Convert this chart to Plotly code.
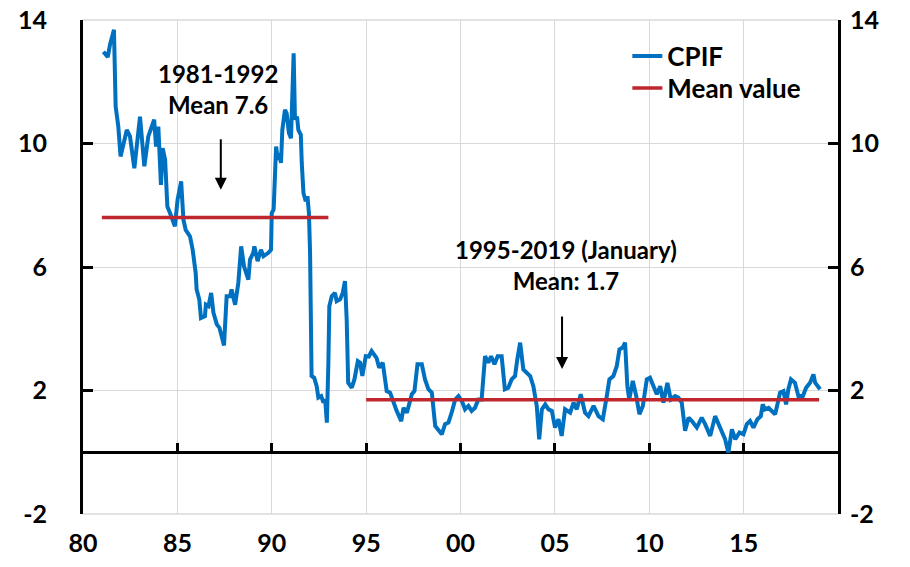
import plotly.graph_objects as go

# ---- Data ----
cpif_year = [
    1981.08, 1981.31, 1981.43, 1981.64, 1981.73, 1981.87, 1981.99, 1982.32, 1982.49, 1982.72,
    1983.02, 1983.25, 1983.46, 1983.77, 1983.87, 1983.99, 1984.13, 1984.22, 1984.35, 1984.47,
    1984.61, 1984.87, 1985.01, 1985.20, 1985.32, 1985.44, 1985.67, 1985.81, 1985.97, 1986.02,
    1986.16, 1986.25, 1986.46, 1986.51, 1986.65, 1986.79, 1986.91, 1987.09, 1987.23, 1987.31,
    1987.47, 1987.61, 1987.79, 1987.87, 1988.06, 1988.23, 1988.38, 1988.53, 1988.76, 1988.85,
    1989.02, 1989.08, 1989.25, 1989.43, 1989.56, 1989.82, 1989.96, 1990.00, 1990.10, 1990.23,
    1990.32, 1990.40, 1990.49, 1990.56, 1990.70, 1990.79, 1990.91, 1991.02, 1991.16, 1991.23,
    1991.34, 1991.41, 1991.54, 1991.59, 1991.68, 1991.80, 1991.89, 1991.97, 1992.03, 1992.11,
    1992.25, 1992.38, 1992.47, 1992.62, 1992.74, 1992.83, 1992.92, 1993.00, 1993.05, 1993.18,
    1993.35, 1993.44, 1993.62, 1993.76, 1993.88, 1993.97, 1994.05, 1994.24, 1994.38, 1994.56,
    1994.68, 1994.80, 1994.98, 1995.14, 1995.29, 1995.55, 1995.69, 1995.88, 1996.09, 1996.27,
    1996.44, 1996.62, 1996.86, 1996.98, 1997.16, 1997.42, 1997.56, 1997.72, 1997.95, 1998.12,
    1998.30, 1998.48, 1998.66, 1998.83, 1999.01, 1999.18, 1999.36, 1999.53, 1999.72, 1999.89,
    2000.07, 2000.24, 2000.42, 2000.59, 2000.77, 2000.94, 2001.12, 2001.30, 2001.47, 2001.62,
    2001.80, 2001.97, 2002.18, 2002.35, 2002.53, 2002.71, 2002.89, 2003.01, 2003.16, 2003.33,
    2003.51, 2003.69, 2003.86, 2004.04, 2004.17, 2004.31, 2004.49, 2004.66, 2004.84, 2005.01,
    2005.19, 2005.36, 2005.54, 2005.81, 2005.99, 2006.16, 2006.37, 2006.60, 2006.78, 2007.05,
    2007.31, 2007.54, 2007.75, 2007.89, 2008.10, 2008.28, 2008.42, 2008.59, 2008.72, 2008.84,
    2008.94, 2009.13, 2009.31, 2009.48, 2009.66, 2009.87, 2010.04, 2010.23, 2010.40, 2010.58,
    2010.75, 2010.96, 2011.14, 2011.37, 2011.54, 2011.72, 2011.90, 2012.08, 2012.26, 2012.52,
    2012.78, 2012.96, 2013.23, 2013.49, 2013.67, 2013.84, 2014.02, 2014.19, 2014.38, 2014.56,
    2014.78, 2014.99, 2015.17, 2015.34, 2015.52, 2015.73, 2015.91, 2016.01, 2016.13, 2016.32,
    2016.50, 2016.67, 2016.79, 2016.93, 2017.11, 2017.25, 2017.37, 2017.51, 2017.72, 2017.90,
    2018.14, 2018.31, 2018.52, 2018.70, 2018.79, 2018.91, 2019.05,
]
cpif_value = [
    12.97, 12.80, 13.20, 13.68, 11.20, 10.55, 9.58, 10.44, 10.23, 9.20,
    10.87, 9.26, 10.23, 10.77, 9.90, 10.55, 8.66, 9.85, 9.47, 7.96,
    7.75, 7.32, 8.18, 8.77, 7.53, 7.20, 6.99, 6.56, 5.81, 5.27,
    4.95, 4.35, 4.41, 4.78, 4.73, 5.16, 4.52, 4.14, 4.03, 3.82,
    3.46, 5.05, 5.05, 5.27, 4.78, 5.49, 6.67, 6.02, 5.59, 6.24,
    6.46, 6.67, 6.19, 6.56, 6.35, 6.46, 6.56, 7.75, 7.86, 9.90,
    9.47, 9.69, 9.37, 10.44, 11.09, 10.98, 10.34, 10.17, 12.92, 10.77,
    10.87, 10.44, 10.28, 9.37, 8.40, 8.13, 8.29, 7.75, 6.46, 2.47,
    2.41, 2.14, 1.77, 1.82, 1.61, 1.71, 0.96, 2.90, 4.73, 5.05,
    5.16, 4.89, 4.95, 5.16, 5.54, 4.30, 2.25, 2.09, 2.36, 2.95,
    2.90, 2.47, 3.11, 3.10, 3.28, 3.06, 2.74, 2.90, 1.98, 1.93,
    1.61, 1.34, 1.01, 1.44, 1.28, 1.88, 1.98, 2.85, 2.85, 2.36,
    2.04, 1.93, 0.85, 0.74, 0.58, 0.91, 0.96, 1.28, 1.71, 1.82,
    1.66, 1.39, 1.50, 1.34, 1.44, 1.71, 1.71, 3.11, 2.90, 3.11,
    2.85, 3.11, 3.11, 2.04, 2.09, 2.36, 2.47, 3.01, 3.55, 2.68,
    2.58, 2.47, 2.14, 1.50, 0.42, 1.39, 1.55, 1.39, 1.34, 0.80,
    1.07, 0.53, 1.39, 1.28, 1.61, 1.39, 1.88, 1.28, 1.17, 1.50,
    1.17, 1.07, 1.82, 2.36, 2.47, 2.79, 3.33, 3.39, 3.55, 2.14,
    1.71, 2.31, 1.82, 1.23, 1.50, 2.36, 2.41, 2.09, 1.88, 2.14,
    1.61, 2.25, 1.71, 1.82, 1.77, 1.61, 0.70, 1.12, 1.01, 0.80,
    1.12, 0.91, 0.53, 1.17, 0.91, 0.64, 0.42, -0.01, 0.74, 0.42,
    0.64, 0.58, 0.91, 1.01, 0.80, 1.07, 1.17, 1.55, 1.39, 1.44,
    1.34, 1.23, 1.55, 1.93, 1.98, 1.55, 2.04, 2.36, 2.25, 1.82,
    1.82, 2.09, 2.25, 2.52, 2.25, 2.14, 2.04,
]
mean_start = [1981, 1995]
mean_end = [1993, 2019]
mean_value = [7.6, 1.7]

x_tick_vals = [1980, 1985, 1990, 1995, 2000, 2005, 2010, 2015]
x_tick_text = ["80", "85", "90", "95", "00", "05", "10", "15"]
y_tick_vals = [-2, 2, 6, 10, 14]
y_tick_text = ["-2", "2", "6", "10", "14"]

FONT = "Lato"
BLUE = "#0070C0"
RED = "#C0262D"
GRID = "#D9D9D9"

mx, my = [], []
for s, e, v in zip(mean_start, mean_end, mean_value):
    mx += [s, e, None]
    my += [v, v, None]

fig = go.Figure()
fig.add_trace(go.Scatter(x=cpif_year, y=cpif_value, mode="lines", name="CPIF",
                         line=dict(color=BLUE, width=4), legend="legend"))
fig.add_trace(go.Scatter(x=mx, y=my, mode="lines", name="Mean value",
                         line=dict(color=RED, width=3.5), connectgaps=False,
                         legend="legend2"))
# invisible traces to activate the right axis and the zero-line tick axis
fig.add_trace(go.Scatter(x=[1980], y=[0], yaxis="y2", mode="markers",
                         marker=dict(opacity=0), showlegend=False, hoverinfo="skip"))
fig.add_trace(go.Scatter(x=[1980], y=[0], xaxis="x2", mode="markers",
                         marker=dict(opacity=0), showlegend=False, hoverinfo="skip"))

tickfont = dict(family=FONT, size=25, color="black", weight="bold")
legfont = dict(family=FONT, size=26, color="black", weight="bold")

fig.update_layout(
    width=910, height=567,
    margin=dict(l=83, r=72, t=20, b=53, autoexpand=False),
    paper_bgcolor="white", plot_bgcolor="white",
    showlegend=True, hovermode=False,
    legend=dict(x=0.721, y=0.927, xanchor="left", yanchor="middle",
                font=legfont, bgcolor="rgba(0,0,0,0)", itemwidth=30),
    legend2=dict(x=0.721, y=0.862, xanchor="left", yanchor="middle",
                 font=legfont, bgcolor="rgba(0,0,0,0)", itemwidth=30),
    xaxis=dict(range=[1980, 2020], tickvals=x_tick_vals, ticktext=x_tick_text,
               showgrid=True, gridcolor=GRID, gridwidth=1.3, zeroline=False,
               showline=False, ticks="", tickfont=tickfont, ticklabelstandoff=12,
               automargin=False, ticklabeloverflow="allow"),
    xaxis2=dict(range=[1980, 2020], overlaying="x", anchor="free", position=0.125,
                tickvals=x_tick_vals[1:], showticklabels=False, ticks="inside",
                ticklen=9, tickwidth=3, tickcolor="black", showgrid=False,
                zeroline=False, showline=False, automargin=False),
    yaxis=dict(range=[-2, 14], tickvals=y_tick_vals, ticktext=y_tick_text,
               showgrid=True, gridcolor=GRID,
               gridwidth=1.3, zeroline=True, zerolinecolor="black", zerolinewidth=3,
               showline=True, linecolor="black", linewidth=3, ticks="inside",
               ticklen=10, tickwidth=3, tickcolor="black", tickfont=tickfont,
               ticklabelstandoff=28, automargin=False, ticklabeloverflow="allow"),
    yaxis2=dict(range=[-2, 14], tickvals=y_tick_vals, ticktext=y_tick_text,
                overlaying="y", side="right",
                anchor="x", showgrid=False, zeroline=False, showline=True,
                linecolor="black", linewidth=3, ticks="inside", ticklen=10,
                tickwidth=3, tickcolor="black", tickfont=tickfont, ticklabelstandoff=4,
                automargin=False, ticklabeloverflow="allow"),
)

# grid lines at the top and bottom edges of the plot
for yp in (0, 1):
    fig.add_shape(type="line", xref="paper", yref="paper", x0=0, x1=1, y0=yp, y1=yp,
                  line=dict(color=GRID, width=1.5), layer="below")

annfont = dict(family=FONT, size=24, color="black", weight="bold")
fig.add_annotation(x=1987.15, y=11.75, xref="x", yref="y", text="1981-1992<br>Mean 7.6",
                   showarrow=False, font=annfont, align="center")
fig.add_annotation(x=2005.6, y=6.06, xref="x", yref="y",
                   text="1995-2019 (January)<br>Mean: 1.7",
                   showarrow=False, font=annfont, align="center")
fig.add_annotation(x=1987.3, y=8.5, xref="x", yref="y", text="", showarrow=True,
                   ax=0, ay=-52, arrowhead=2, arrowsize=1.2, arrowwidth=2, arrowcolor="black")
fig.add_annotation(x=2005.38, y=2.7, xref="x", yref="y", text="", showarrow=True,
                   ax=0, ay=-54, arrowhead=2, arrowsize=1.2, arrowwidth=2, arrowcolor="black")

# remove the default 8px page margin so the figure fills the window exactly
fig.write_html("out.html", config={"displayModeBar": False},
               post_script="document.body.style.margin='0';")
